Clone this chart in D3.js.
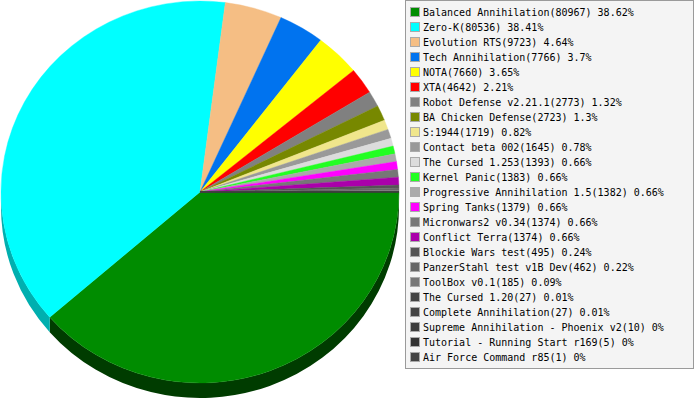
<!DOCTYPE html>
<html><head><meta charset="utf-8">
<script src="https://cdn.jsdelivr.net/npm/d3@7"></script>
<style>html,body{margin:0;padding:0;background:#fff;}svg{display:block;}</style>
</head><body>
<script>
const names = ["Balanced Annihilation","Zero-K","Evolution RTS","Tech Annihilation","NOTA","XTA","Robot Defense v2.21.1","BA Chicken Defense","S:1944","Contact beta 002","The Cursed 1.253","Kernel Panic","Progressive Annihilation 1.5","Spring Tanks","Micronwars2 v0.34","Conflict Terra","Blockie Wars test","PanzerStahl test v1B Dev","ToolBox v0.1","The Cursed 1.20","Complete Annihilation","Supreme Annihilation - Phoenix v2","Tutorial - Running Start r169","Air Force Command r85"];
const values = [80967,80536,9723,7766,7660,4642,2773,2723,1719,1645,1393,1383,1382,1379,1374,1374,495,462,185,27,27,10,5,1];
const percents = ["38.62","38.41","4.64","3.7","3.65","2.21","1.32","1.3","0.82","0.78","0.66","0.66","0.66","0.66","0.66","0.66","0.24","0.22","0.09","0.01","0.01","0","0","0"];
const colors = ["#008c00","#00ffff","#f5be84","#0073ef","#ffff00","#ff0000","#808080","#778800","#f0e68c","#999999","#dcdcdc","#22ff22","#aaaaaa","#ff00ff","#777777","#aa00aa","#555555","#666666","#777777","#444444","#444444","#3c3c3c","#333333","#444444"];

const W = 695, H = 400;
const cx = 200, cy = 192, rx = 199, ry = 191, depth = 15;

const svg = d3.select("body").append("svg").attr("width", W).attr("height", H);

const pie = d3.pie().sort(null).value(d => d.v).startAngle(Math.PI/2).endAngle(Math.PI/2 + 2*Math.PI);
const data = names.map((n,i) => ({n, v: values[i], c: colors[i], p: percents[i]}));
const arcs = pie(data);

function pt(t, dy) { return [cx + rx*Math.cos(t), cy + ry*Math.sin(t) + (dy||0)]; }
function darken(c) { const k = d3.rgb(c); return d3.rgb(Math.max(0,k.r-80), Math.max(0,k.g-80), Math.max(0,k.b-80)).toString(); }

const gSide = svg.append("g");
const gTop = svg.append("g");

arcs.forEach(a => {
  const s = a.startAngle - Math.PI/2, e = a.endAngle - Math.PI/2;
  // side for part within [0, PI]
  const t1 = Math.max(s, 0), t2 = Math.min(e, Math.PI);
  if (t2 > t1) {
    const p1 = pt(t1), p2 = pt(t2), p3 = pt(t2, depth), p4 = pt(t1, depth);
    const d = `M${p1}A${rx},${ry} 0 0 1 ${p2}L${p3}A${rx},${ry} 0 0 0 ${p4}Z`;
    gSide.append("path").attr("d", d).attr("fill", darken(a.data.c));
  }
  const ps = pt(s), pe = pt(e);
  const large = (e - s) > Math.PI ? 1 : 0;
  gTop.append("path")
    .attr("d", `M${cx},${cy}L${ps}A${rx},${ry} 0 ${large} 1 ${pe}Z`)
    .attr("fill", a.data.c)
    .attr("stroke", a.data.c).attr("stroke-width", 0.4);
});

// Legend
const lx = 405.5, ly = 0.5, lw = 288, lh = 368;
const lg = svg.append("g");
lg.append("rect").attr("x", lx).attr("y", ly).attr("width", lw).attr("height", lh)
  .attr("fill", "#f4f4f4").attr("stroke", "#9a9a9a");
const rowY = d3.scaleLinear().domain([0, 1]).range([12, 27]);
data.forEach((d, i) => {
  const y = rowY(i);
  lg.append("rect").attr("x", 410.5).attr("y", Math.round(y) - 4.5).attr("width", 9).attr("height", 9)
    .attr("fill", d.c).attr("stroke", "#aaaaaa");
  lg.append("text").attr("x", 423).attr("y", Math.round(y) + 4)
    .attr("font-family", "DejaVu Sans Mono, monospace").attr("font-size", "10px").attr("fill", "#000")
    .text(`${d.n}(${d.v}) ${d.p}%`);
});
</script>
</body></html>
